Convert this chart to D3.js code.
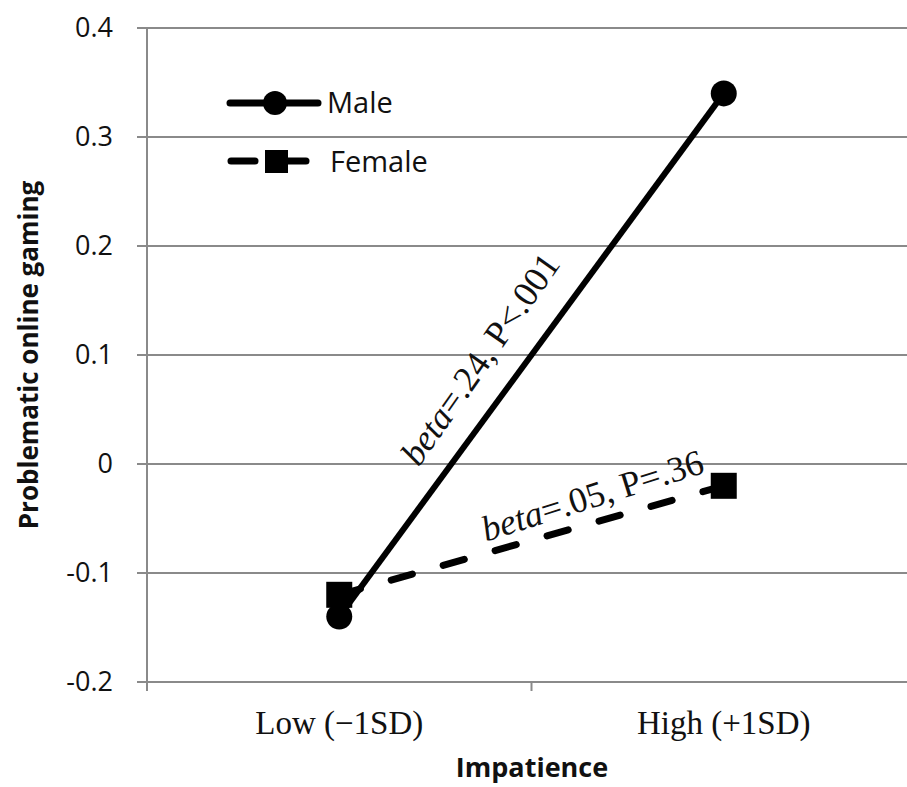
<!DOCTYPE html>
<html lang="en">
<head>
<meta charset="UTF-8"/>
<title>Problematic online gaming by impatience</title>
<script src="https://d3js.org/d3.v7.min.js"></script>
<style>
	body { margin: 0; background: #fff; }
	svg { display: block; }
	.ytick { font-family: "Open Sans", "Noto Sans", sans-serif; font-size: 27px; fill: #111; }
	.leg { font-family: "Open Sans", "Noto Sans", sans-serif; font-size: 29px; fill: #111; }
	.xtick { font-family: "Liberation Serif", "DejaVu Serif", serif; font-size: 33px; fill: #111; }
	.title { font-family: "Open Sans", "Noto Sans", sans-serif; font-weight: bold; fill: #111; }
	.note { font-family: "Liberation Serif", "DejaVu Serif", serif; font-size: 36px; fill: #111; }
</style>
</head>
<body>
<script>
	var w = 907;
	var h = 787;

	// categories and values
	var categories = ["Low (\u22121SD)", "High (+1SD)"];
	var maleValues = [-0.14, 0.34];
	var femaleValues = [-0.12, -0.02];
	var yTicks = [-0.2, -0.1, 0, 0.1, 0.2, 0.3, 0.4];
	var seriesNames = ["Male", "Female"];
	var notes = ["=.24, P<.001", "=.05, P=.36"];

	// plot edges ("top" is taken on window, so use other names)
	var plotLeft = 147, plotRight = 916, plotTop = 28, plotBottom = 682;

	var xScale = d3.scaleBand()
		.domain(categories)
		.range([plotLeft, plotRight]);

	var yScale = d3.scaleLinear()
		.domain([-0.2, 0.4])
		.range([plotBottom, plotTop]);

	var svg = d3.select("body")
		.append("svg")
		.attr("width", w)
		.attr("height", h);

	// horizontal grid lines
	svg.selectAll("line.grid")
		.data(yTicks)
		.enter()
		.append("line")
		.attr("class", "grid")
		.attr("x1", plotLeft - 10)
		.attr("x2", w)
		.attr("y1", function(d){ return yScale(d); })
		.attr("y2", function(d){ return yScale(d); })
		.attr("stroke", "#8a8a8a")
		.attr("stroke-width", 2);

	// y axis line
	svg.append("line")
		.attr("x1", plotLeft).attr("x2", plotLeft)
		.attr("y1", plotTop).attr("y2", plotBottom + 9)
		.attr("stroke", "#8a8a8a")
		.attr("stroke-width", 2);

	// tick between categories
	svg.append("line")
		.attr("x1", xScale(categories[1])).attr("x2", xScale(categories[1]))
		.attr("y1", plotBottom).attr("y2", plotBottom + 9)
		.attr("stroke", "#8a8a8a")
		.attr("stroke-width", 2);

	// y tick labels (plain hyphen like the original)
	svg.selectAll("text.ytick")
		.data(yTicks)
		.enter()
		.append("text")
		.attr("class", "ytick")
		.attr("x", 113)
		.attr("y", function(d){ return yScale(d) + 9; })
		.attr("text-anchor", "end")
		.text(function(d){ return d === 0 ? "0" : d.toFixed(1); });

	// category labels
	svg.selectAll("text.xtick")
		.data(categories)
		.enter()
		.append("text")
		.attr("class", "xtick")
		.attr("x", function(d){ return xScale(d) + xScale.bandwidth() / 2; })
		.attr("y", 734)
		.attr("text-anchor", "middle")
		.text(function(d){ return d; });

	// axis titles
	svg.append("text")
		.attr("class", "title")
		.attr("x", 532)
		.attr("y", 777)
		.attr("text-anchor", "middle")
		.style("font-size", "27px")
		.text("Impatience");

	svg.append("text")
		.attr("class", "title")
		.attr("transform", "rotate(-90)")
		.attr("x", -355)
		.attr("y", 38)
		.attr("text-anchor", "middle")
		.style("font-size", "26px")
		.text("Problematic online gaming");

	var cx = function(d, i){ return xScale(categories[i]) + xScale.bandwidth() / 2; };

	var line = d3.line()
		.x(function(d, i){ return cx(d, i); })
		.y(function(d){ return yScale(d); });

	// female (dashed, squares)
	svg.append("path")
		.datum(femaleValues)
		.attr("d", line)
		.attr("fill", "none")
		.attr("stroke", "#000")
		.attr("stroke-width", 7)
		.attr("stroke-linecap", "round")
		.attr("stroke-dasharray", "22,32");

	svg.selectAll("rect.female")
		.data(femaleValues)
		.enter()
		.append("rect")
		.attr("class", "female")
		.attr("x", function(d, i){ return cx(d, i) - 13; })
		.attr("y", function(d){ return yScale(d) - 13; })
		.attr("width", 26)
		.attr("height", 26)
		.attr("fill", "#000");

	// male (solid, circles)
	svg.append("path")
		.datum(maleValues)
		.attr("d", line)
		.attr("fill", "none")
		.attr("stroke", "#000")
		.attr("stroke-width", 6);

	svg.selectAll("circle.male")
		.data(maleValues)
		.enter()
		.append("circle")
		.attr("class", "male")
		.attr("cx", function(d, i){ return cx(d, i); })
		.attr("cy", function(d){ return yScale(d); })
		.attr("r", 13)
		.attr("fill", "#000");

	// slope annotations along the lines
	var noteData = [
		{ text: notes[0], x: 490, y: 366, a: -55 },
		{ text: notes[1], x: 596, y: 507, a: -17.5 }
	];

	var noteText = svg.selectAll("text.note")
		.data(noteData)
		.enter()
		.append("text")
		.attr("class", "note")
		.attr("text-anchor", "middle")
		.attr("transform", function(d){ return "translate(" + d.x + "," + d.y + ") rotate(" + d.a + ")"; });
	noteText.append("tspan").style("font-style", "italic").text("beta");
	noteText.append("tspan").text(function(d){ return d.text; });

	// legend
	var legend = svg.append("g");
	legend.append("line")
		.attr("x1", 230).attr("x2", 318)
		.attr("y1", 103).attr("y2", 103)
		.attr("stroke", "#000").attr("stroke-width", 7)
		.attr("stroke-linecap", "round");
	legend.append("circle")
		.attr("cx", 275).attr("cy", 103).attr("r", 12)
		.attr("fill", "#000");
	legend.append("text")
		.attr("class", "leg")
		.attr("x", 327).attr("y", 113)
		.text(seriesNames[0]);

	legend.append("line")
		.attr("x1", 231).attr("x2", 255)
		.attr("y1", 161).attr("y2", 161)
		.attr("stroke", "#000").attr("stroke-width", 7)
		.attr("stroke-linecap", "round");
	legend.append("line")
		.attr("x1", 286).attr("x2", 306)
		.attr("y1", 161).attr("y2", 161)
		.attr("stroke", "#000").attr("stroke-width", 7)
		.attr("stroke-linecap", "round");
	legend.append("rect")
		.attr("x", 265).attr("y", 150).attr("width", 23).attr("height", 23)
		.attr("fill", "#000");
	legend.append("text")
		.attr("class", "leg")
		.attr("x", 330).attr("y", 172)
		.text(seriesNames[1]);
</script>
</body>
</html>
